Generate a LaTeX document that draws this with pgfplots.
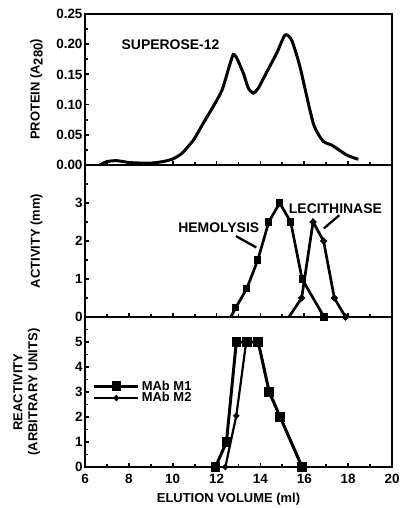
\documentclass[border=0pt]{standalone}
\usepackage{pgfplots}
\pgfplotsset{compat=1.18}
\usepackage{fontspec}
\setmainfont{Liberation Sans}
\begin{document}
\begin{tikzpicture}[font=\bfseries\fontsize{13}{15}\selectfont]
\useasboundingbox (0,0) rectangle (402bp,508bp);
\pgfplotsset{
 every axis/.append style={
  scale only axis, width=307bp,
  xmin=6, xmax=20,
  xtick={6,8,...,20}, minor xtick={7,9,...,19},
  xtick pos=bottom, ytick pos=left,
  tick align=inside,
  major tick length=4bp, minor tick length=3bp,
  tick style={line width=1.8pt, black},
  axis line style={line width=2.4pt},
  /pgf/number format/assume math mode=true,
  tick label style={font=\bfseries\fontsize{13.5}{15}\selectfont},
  yticklabel style={xshift=1bp},
  xticklabel style={yshift=-4bp},
  label style={font=\bfseries\fontsize{13}{15}\selectfont},
  ylabel style={at={(axis description cs:-0.158,0.5)}, anchor=center, align=center},
  clip=false,
 }
}
% top panel
\begin{axis}[at={(85bp,343bp)}, anchor=south west, height=151bp,
  ymin=0, ymax=0.25,
  ytick={0,0.05,0.10,0.15,0.20,0.25},
  minor ytick={0.025,0.075,0.125,0.175,0.225},
  xticklabels={},
  yticklabel style={/pgf/number format/.cd, fixed, fixed zerofill, precision=2},
  ylabel={PROTEIN (A\raisebox{-0.45ex}{280})}]
\addplot[line width=3pt, smooth, tension=0.4] coordinates {
(6.68,0) (6.99,0.0055) (7.44,0.0072) (8.05,0.004) (8.96,0.003) (9.6,0.006)
(10.0,0.01) (10.41,0.019) (10.94,0.041) (11.39,0.069) (11.85,0.097)
(12.25,0.124) (12.55,0.160) (12.76,0.183) (12.92,0.177) (13.22,0.152)
(13.45,0.127) (13.68,0.119) (13.9,0.127) (14.29,0.154) (14.74,0.185)
(15.12,0.215) (15.42,0.207) (15.8,0.163) (16.41,0.069) (16.87,0.039)
(17.25,0.033) (17.93,0.0166) (18.46,0.0094)};
\node[font=\bfseries\fontsize{14}{16}\selectfont] at (axis cs:9.9,0.199) {SUPEROSE-12};
\end{axis}
% middle panel
\begin{axis}[at={(85bp,191bp)}, anchor=south west, height=152bp,
  ymin=0, ymax=4,
  ytick={0,1,2,3}, minor ytick={0.5,1.5,2.5,3.5},
  xticklabels={},
  ylabel={ACTIVITY (mm)}]
\addplot[line width=2.7pt, mark=square*, mark size=2.2bp, mark indices={2,3,4,5,6,7,8,9}] coordinates {
(12.65,0) (12.88,0.25) (13.38,0.75) (13.88,1.5) (14.38,2.5) (14.88,3) (15.38,2.5) (15.9,1.0) (16.9,0)};
\addplot[line width=2.7pt, mark=*, mark size=1.9bp, mark indices={2,3,4,5,6,7}] coordinates {
(15.3,0) (15.88,0.5) (16.4,2.5) (16.88,2) (17.37,0.5) (17.88,0)};
\node[font=\bfseries\fontsize{14}{16}\selectfont] at (axis cs:12.1,2.34) {HEMOLYSIS};
\draw[line width=2.3pt] (axis cs:12.88,2.13) -- (axis cs:13.81,1.83);
\node[font=\bfseries\fontsize{14}{16}\selectfont] at (axis cs:17.42,2.86) {LECITHINASE};
\draw[line width=2.3pt] (axis cs:17.6,2.68) -- (axis cs:16.89,2.33);
\end{axis}
% bottom panel
\begin{axis}[at={(85bp,41bp)}, anchor=south west, height=150bp,
  ymin=0, ymax=6,
  ytick={0,1,2,3,4,5}, minor ytick={0.5,1.5,2.5,3.5,4.5,5.5},
  ylabel style={at={(axis description cs:-0.19,0.5)}},
  ylabel={REACTIVITY\\(ARBITRARY UNITS)},
  xlabel={ELUTION VOLUME (ml)},
  xlabel style={yshift=-2bp, xshift=-10bp},
  legend style={at={(axis description cs:0.025,0.59)}, anchor=north west, draw=none, fill=none,
    font=\bfseries\fontsize{13}{15}\selectfont, row sep=-3pt, inner sep=0pt},
  legend cell align=left,
  legend image code/.code={\draw[mark repeat=2, mark phase=2, #1] plot coordinates {(0bp,0bp) (22bp,0bp) (44bp,0bp)};}]
\addplot[line width=3pt, mark=square*, mark size=3.3bp] coordinates {
(11.95,0) (12.45,1) (12.9,5) (13.4,5) (13.9,5) (14.4,3) (14.9,2) (15.9,0)};
\addlegendentry{MAb M1}
\addplot[line width=2.2pt, mark=*, mark size=1.8bp] coordinates {
(12.4,0) (12.9,2.05) (13.35,5) (13.9,5) (14.4,3) (14.9,2) (15.9,0)};
\addlegendentry{MAb M2}
\end{axis}
\end{tikzpicture}
\end{document}
